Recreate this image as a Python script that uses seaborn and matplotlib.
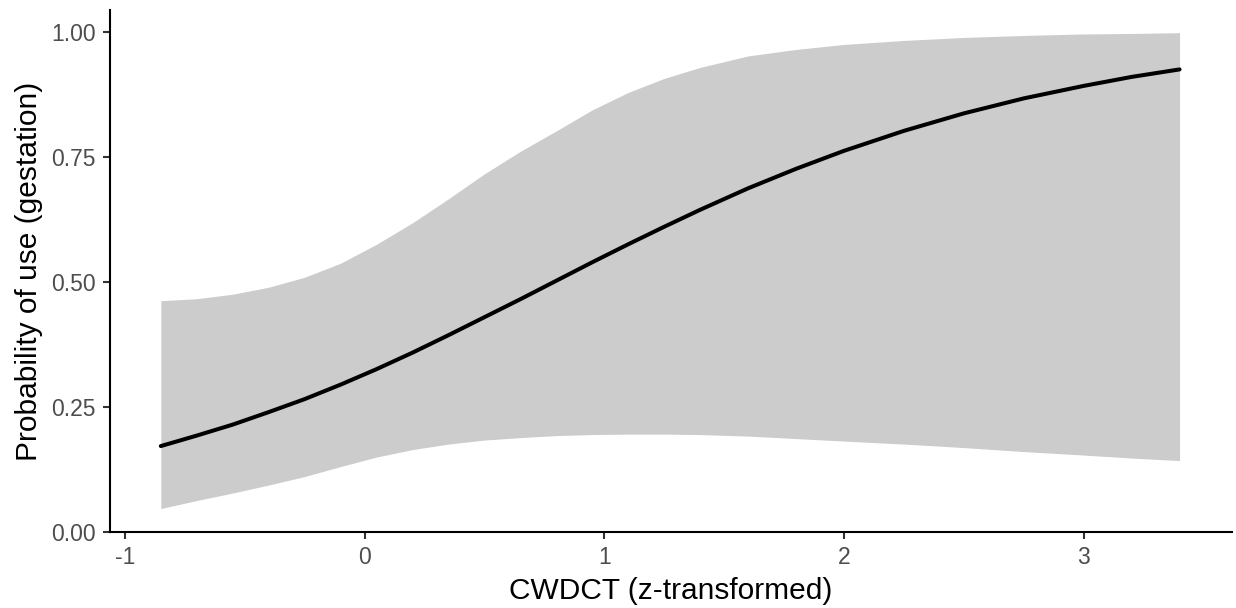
import numpy as np
import pandas as pd
import seaborn as sns
import matplotlib
matplotlib.use("Agg")
import matplotlib.pyplot as plt

# values
cwdct = [-0.85, -0.7, -0.55, -0.4, -0.25, -0.1, 0.05, 0.2, 0.35, 0.5,
         0.65, 0.8, 0.95, 1.1, 1.25, 1.4, 1.6, 1.8, 2.0, 2.25,
         2.5, 2.75, 3.0, 3.2, 3.4]
prob = [0.172, 0.193, 0.215, 0.240, 0.266, 0.295, 0.326, 0.359, 0.394, 0.430,
        0.466, 0.503, 0.540, 0.576, 0.611, 0.645, 0.688, 0.727, 0.763, 0.803,
        0.838, 0.868, 0.893, 0.911, 0.926]
upper = [0.463, 0.467, 0.476, 0.490, 0.510, 0.538, 0.576, 0.619, 0.667, 0.717,
         0.762, 0.803, 0.845, 0.880, 0.908, 0.930, 0.953, 0.966, 0.976, 0.984,
         0.990, 0.994, 0.997, 0.998, 0.9995]
lower = [0.047, 0.063, 0.078, 0.094, 0.111, 0.131, 0.150, 0.165, 0.176, 0.184,
         0.189, 0.193, 0.195, 0.196, 0.196, 0.195, 0.192, 0.187, 0.182, 0.176,
         0.169, 0.161, 0.154, 0.148, 0.143]

x_ticks = [-1, 0, 1, 2, 3]
y_ticks = [0.0, 0.25, 0.5, 0.75, 1.0]

df = pd.DataFrame({"cwdct": cwdct, "prob": prob, "upper": upper, "lower": lower})

sns.set_theme(style="ticks")
plt.rcParams["font.family"] = ["Liberation Sans", "DejaVu Sans"]

fig = plt.figure(figsize=(12.36, 6.08), dpi=100)
ax = fig.add_axes([0.089, 0.125, 0.9078, 0.8586])

# confidence band
ax.fill_between(df["cwdct"], df["lower"], df["upper"], color="#CCCCCC", linewidth=0, zorder=1)
# fitted curve
sns.lineplot(data=df, x="cwdct", y="prob", color="black", linewidth=2.9, ax=ax, zorder=2)

ax.set_xlim(-1.062, 3.619)
ax.set_ylim(0, 1.045)
ax.set_xticks(x_ticks)
ax.set_xticklabels([str(t) for t in x_ticks])
ax.set_yticks(y_ticks)
ax.set_yticklabels([f"{t:.2f}" for t in y_ticks])

for side in ["top", "right"]:
    ax.spines[side].set_visible(False)
for side in ["left", "bottom"]:
    ax.spines[side].set_linewidth(1.5)
    ax.spines[side].set_color("black")

ax.tick_params(axis="both", length=5, width=1.5, color="#333333",
               labelsize=16.5, labelcolor="#4D4D4D", pad=5)

ax.set_xlabel("CWDCT (z-transformed)", fontsize=21.5, color="black", labelpad=6)
ax.set_ylabel("Probability of use (gestation)", fontsize=21.5, color="black", labelpad=6)

plt.savefig("out.png", dpi=100)
